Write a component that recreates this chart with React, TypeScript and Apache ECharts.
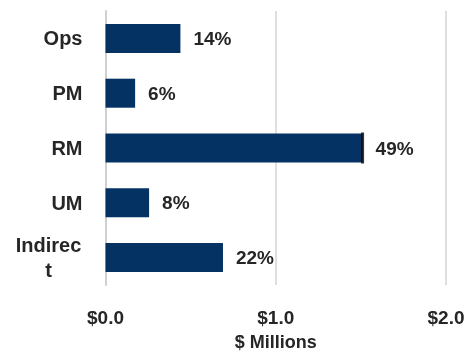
import React, { useEffect, useRef } from "react";
import * as echarts from "echarts";

const categories = ["Ops", "PM", "RM", "UM", "Indirect"];
const values = [0.44, 0.174, 1.51, 0.256, 0.69];
const shareLabels = ["14%", "6%", "49%", "8%", "22%"];
const tickValues = [0, 1, 2];
const highlightCategory = "RM";

export default function App() {
  const ref = useRef<HTMLDivElement>(null);
  useEffect(() => {
    if (!ref.current) return;
    const chart = echarts.init(ref.current, null, { renderer: "svg" });
    const font = "'Liberation Sans', Arial, sans-serif";
    const textColor = "#262626";
    const hiIdx = categories.indexOf(highlightCategory);
    chart.setOption({
      animation: false,
      grid: { left: 105.5, right: 24, top: 11, bottom: 67, outerBoundsMode: "none", containLabel: false },
      xAxis: {
        type: "value",
        min: tickValues[0],
        max: tickValues[tickValues.length - 1],
        interval: 1,
        name: "$ Millions",
        nameLocation: "middle",
        nameGap: 48,
        nameTextStyle: { fontFamily: font, fontSize: 18, fontWeight: "bold", color: textColor },
        axisLine: { show: false },
        axisTick: { show: false },
        axisLabel: {
          margin: 23,
          fontFamily: font,
          fontSize: 19,
          fontWeight: "bold",
          color: textColor,
          formatter: (v: number) => "$" + v.toFixed(1),
        },
        splitLine: { show: true, lineStyle: { color: "#d4d4d4", width: 1.5 } },
      },
      yAxis: {
        type: "category",
        data: categories,
        inverse: true,
        axisLine: { show: true, lineStyle: { color: "#d0d0d0", width: 2 } },
        axisTick: { show: false },
        axisLabel: {
          margin: 23,
          fontFamily: font,
          fontSize: 20,
          fontWeight: "bold",
          color: textColor,
          lineHeight: 25,
          formatter: (v: string) =>
            v === "Indirect" ? "{w|Indirec}\n{w|t}" : v,
          rich: {
            w: {
              width: 68,
              align: "center",
              fontFamily: font,
              fontSize: 20,
              fontWeight: "bold",
              color: textColor,
              lineHeight: 25,
            },
          },
        },
      },
      series: [
        {
          type: "bar",
          data: values,
          barWidth: 29,
          itemStyle: { color: "#043263" },
          label: {
            show: true,
            position: "right",
            distance: 13,
            fontFamily: font,
            fontSize: 19,
            fontWeight: "bold",
            color: textColor,
            formatter: (p: any) => shareLabels[p.dataIndex],
          },
        },
        {
          type: "scatter",
          data: [[values[hiIdx], categories[hiIdx]]],
          symbol: "rect",
          symbolSize: [3, 31],
          itemStyle: { color: "#000" },
          z: 5,
        },
      ],
    });
    return () => chart.dispose();
  }, []);
  return (
    <div
      ref={ref}
      style={{ position: "fixed", left: 0, top: 0, width: 470, height: 352 }}
    />
  );
}
